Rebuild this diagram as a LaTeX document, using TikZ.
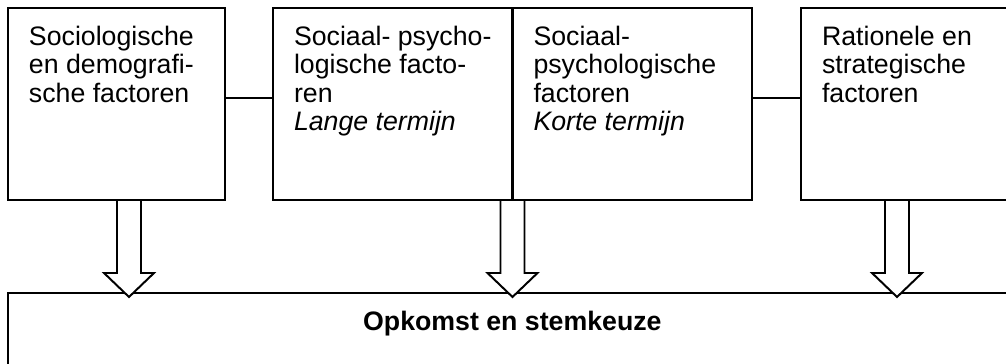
\documentclass[tikz,border=0pt]{standalone}
\usepackage{fontspec}
\setmainfont{Liberation Sans}
\usepackage{tikz}

\tikzset{
  factor/.style={draw, rectangle, line width=1.7pt, anchor=north west, outer sep=0pt,
    inner xsep=0.525cm, inner ysep=0.45cm, font=\fontsize{19}{20.2}\selectfont},
  link/.style={line width=1.4pt},
  hollowarrow/.style={line width=1.4pt, fill=white, line join=miter}
}
\newcommand{\boxtext}[2]{\parbox[t][3.9cm][t]{#1}{\raggedright #2}}
\newcommand{\downarrowat}[1]{\draw[hollowarrow] (#1) ++(-0.3,0) -- ++(0,-1.825) -- ++(-0.325,0) -- ++(0.625,-0.6) -- ++(0.625,0.6) -- ++(-0.325,0) -- ++(0,1.825) -- cycle;}

\begin{document}
\begin{tikzpicture}
\clip (0,0) rectangle (25.15,9.1);
\node[factor] (soc) at (0.2,8.9) {\boxtext{4.375cm}{Sociologische\\en demografi-\\sche factoren}};
\node[factor] (lang) at (6.825,8.9) {\boxtext{4.9375cm}{Sociaal- psycho-\\logische facto-\\ren\\\textit{Lange termijn}}};
\node[factor] (kort) at (lang.north east) {\boxtext{4.9375cm}{Sociaal-\\psychologische\\factoren\\\textit{Korte termijn}}};
\node[factor] (rat) at (20.025,8.9) {\boxtext{4.95cm}{Rationele en\\strategische\\factoren}};
\node[factor, line width=1.5pt] (keuze) at (0.2,1.77) {\parbox[t][1.5cm][t]{24.17cm}{\centering\bfseries Opkomst en stemkeuze}};
\draw[link] ([yshift=0.15cm]soc.east) -- ([yshift=0.15cm]lang.west);
\draw[link] ([yshift=0.15cm]kort.east) -- ([yshift=0.15cm]rat.west);
\downarrowat{[xshift=0.3125cm]soc.south}
\downarrowat{lang.south east}
\downarrowat{[xshift=2.4cm]rat.south west}
\end{tikzpicture}
\end{document}
